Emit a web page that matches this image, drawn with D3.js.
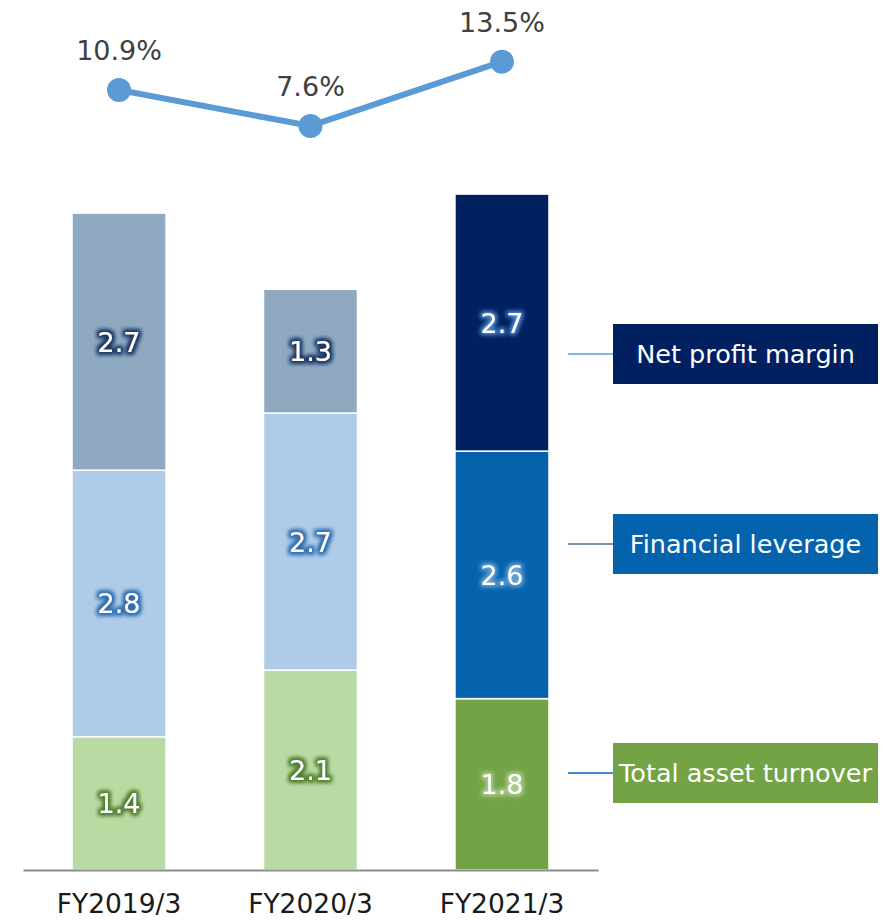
<!DOCTYPE html>
<html>
<head>
<meta charset="utf-8">
<script src="https://cdn.jsdelivr.net/npm/d3@7"></script>
<style>
  html, body { margin: 0; padding: 0; background: #fff; }
  svg text { font-family: "DejaVu Sans", Verdana, sans-serif; }
</style>
</head>
<body>
<div id="chart"></div>
<script>
// data
var categories = ["FY2019/3", "FY2020/3", "FY2021/3"];
var totalAssetTurnover = [1.4, 2.1, 1.8];
var financialLeverage = [2.8, 2.7, 2.6];
var netProfitMargin = [2.7, 1.3, 2.7];
var roe = [10.9, 7.6, 13.5];
var seriesNames = ["Total asset turnover", "Financial leverage", "Net profit margin"];

// colours: past years are pale, latest year is strong
var paleFill = ["#bbdaa3", "#aecbe8", "#8fa9c1"];
var paleGlow = ["#4f7f2c", "#2f6fb0", "#1f3864"];
var strongFill = ["#74a346", "#0563ae", "#002060"];
var strongGlow = ["#e2f0d6", "#c4dcf2", "#4f8fd6"];
var legendLine = ["#0563c1", "#4a6f98", "#5b9bd5"];

var width = 889, height = 920;
var baseY = 870, unitPx = 95.2;

var svg = d3.select("#chart").append("svg")
   .attr("width", width).attr("height", height);

// glow filters for the value labels
var defs = svg.append("defs");
function glow(id, colour, opacity, layers) {
   var f = defs.append("filter").attr("id", id)
      .attr("x", "-50%").attr("y", "-50%").attr("width", "200%").attr("height", "200%");
   f.append("feMorphology").attr("in", "SourceAlpha").attr("operator", "dilate").attr("radius", 1.5).attr("result", "thick");
   f.append("feGaussianBlur").attr("in", "thick").attr("stdDeviation", 2).attr("result", "blur");
   f.append("feFlood").attr("flood-color", colour).attr("flood-opacity", opacity).attr("result", "col");
   f.append("feComposite").attr("in", "col").attr("in2", "blur").attr("operator", "in").attr("result", "halo");
   var m = f.append("feMerge");
   for (var j = 0; j < layers; j++) m.append("feMergeNode").attr("in", "halo");
   m.append("feMergeNode").attr("in", "SourceGraphic");
}
paleGlow.forEach(function(c, i) { glow("pale" + i, c, 1, 2); });
strongGlow.forEach(function(c, i) { glow("strong" + i, c, i === 2 ? 1 : 0.55, 1); });

// scales
var x = d3.scaleBand().domain(categories).range([23, 598]).paddingInner(0.509).paddingOuter(0.256);
var y = d3.scaleLinear().domain([0, 8]).range([baseY, baseY - 8 * unitPx]);
var yLine = d3.scaleLinear().domain([0, 14]).range([208.8, 56.2]);

// stacked bars
var table = categories.map(function(c, i) {
   return { cat: c, v0: totalAssetTurnover[i], v1: financialLeverage[i], v2: netProfitMargin[i], latest: i === categories.length - 1 };
});
var stack = d3.stack().keys(["v0", "v1", "v2"])(table);

var gBars = svg.append("g").attr("class", "bars");
stack.forEach(function(layer, k) {
   var g = gBars.append("g");
   g.selectAll("rect").data(layer).enter().append("rect")
      .attr("x", function(d) { return x(d.data.cat); })
      .attr("width", x.bandwidth())
      .attr("y", function(d) { return y(d[1]); })
      .attr("height", function(d) { return y(d[0]) - y(d[1]); })
      .attr("fill", function(d) { return d.data.latest ? strongFill[k] : paleFill[k]; })
      .attr("stroke", "#fff").attr("stroke-width", 1.5);
   g.selectAll("text").data(layer).enter().append("text")
      .attr("x", function(d) { return x(d.data.cat) + x.bandwidth() / 2; })
      .attr("y", function(d) { return (y(d[0]) + y(d[1])) / 2 + 10; })
      .attr("text-anchor", "middle")
      .attr("font-size", 27)
      .attr("fill", "#fff")
      .attr("filter", function(d) { return "url(#" + (d.data.latest ? "strong" : "pale") + k + ")"; })
      .text(function(d) { return (d[1] - d[0]).toFixed(1); });
});

// x axis
var gAxis = svg.append("g").attr("transform", "translate(0," + baseY + ")")
   .call(d3.axisBottom(x).tickSize(0).tickPadding(24));
gAxis.select(".domain").attr("stroke", "#8c8c8c").attr("stroke-width", 2);
gAxis.selectAll("text").attr("font-size", 26.5).attr("fill", "#1a1a1a")
   .attr("font-family", "DejaVu Sans, Verdana, sans-serif");

// ROE line
var cx = function(d, i) { return x(categories[i]) + x.bandwidth() / 2; };
svg.append("path").datum(roe)
   .attr("fill", "none").attr("stroke", "#5b9bd5").attr("stroke-width", 6)
   .attr("d", d3.line().x(cx).y(function(d) { return yLine(d); }));
svg.selectAll(".pt").data(roe).enter().append("circle").attr("class", "pt")
   .attr("cx", cx).attr("cy", function(d) { return yLine(d); })
   .attr("r", 12).attr("fill", "#5b9bd5");
svg.selectAll(".pt-label").data(roe).enter().append("text").attr("class", "pt-label")
   .attr("x", cx).attr("y", function(d) { return yLine(d) - 30; })
   .attr("text-anchor", "middle").attr("font-size", 27).attr("fill", "#404040")
   .text(function(d) { return d.toFixed(1) + "%"; });

// legend boxes beside the latest bar
var legendTop = [743, 514, 324];
var boxX = 613, boxW = 265, boxH = 60, lineX = 568;
var gLeg = svg.append("g").attr("class", "legend");
seriesNames.forEach(function(name, k) {
   var cyBox = legendTop[k] + boxH / 2;
   gLeg.append("line")
      .attr("x1", lineX).attr("x2", boxX).attr("y1", cyBox).attr("y2", cyBox)
      .attr("stroke", legendLine[k]).attr("stroke-width", 1.5);
   gLeg.append("rect")
      .attr("x", boxX).attr("y", legendTop[k]).attr("width", boxW).attr("height", boxH)
      .attr("fill", strongFill[k]);
   gLeg.append("text")
      .attr("x", boxX + boxW / 2).attr("y", cyBox + 9)
      .attr("text-anchor", "middle").attr("font-size", 25.5).attr("fill", "#fff")
      .text(name);
});
</script>
</body>
</html>
